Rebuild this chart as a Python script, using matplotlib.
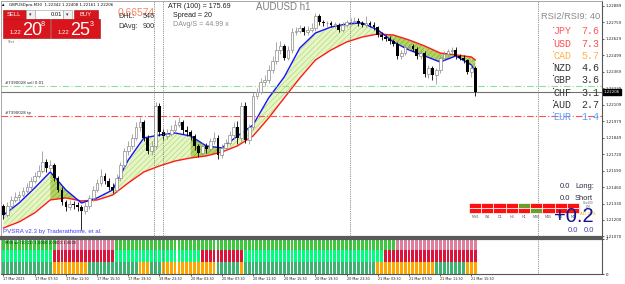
import matplotlib
matplotlib.use("Agg")
import numpy as np
import matplotlib.pyplot as plt
import matplotlib.transforms as mtransforms
from matplotlib.patches import Rectangle

plt.rcParams["hatch.linewidth"] = 0.4

# GBPUSD M30 candles, 17 Mar 03:30 .. 21 Mar 16:30
opens = [1.2131, 1.2124, 1.2131, 1.2136, 1.2138, 1.2140, 1.2143, 1.2146, 1.2151, 1.2155,
         1.2159, 1.2166, 1.2161, 1.2163, 1.2153, 1.2144, 1.2134, 1.2130, 1.2133, 1.2132,
         1.2130, 1.2127, 1.2131, 1.2137, 1.2144, 1.2149, 1.2155, 1.2151, 1.2146, 1.2144,
         1.2153, 1.2163, 1.2174, 1.2178, 1.2185, 1.2193, 1.2197, 1.2185, 1.2174, 1.2178,
         1.2210, 1.2189, 1.2186, 1.2188, 1.2191, 1.2195, 1.2197, 1.2191, 1.2189, 1.2186,
         1.2178, 1.2173, 1.2178, 1.2176, 1.2182, 1.2185, 1.2171, 1.2177, 1.2181, 1.2187,
         1.2193, 1.2185, 1.2210, 1.2183, 1.2193, 1.2218, 1.2221, 1.2229, 1.2230, 1.2238,
         1.2245, 1.2254, 1.2257, 1.2248, 1.2254, 1.2268, 1.2269, 1.2271, 1.2268, 1.2270,
         1.2271, 1.2281, 1.2276, 1.2275, 1.2275, 1.2274, 1.2274, 1.2270, 1.2274, 1.2276,
         1.2276, 1.2277, 1.2275, 1.2274, 1.2275, 1.2274, 1.2272, 1.2266, 1.2264, 1.2263,
         1.2261, 1.2259, 1.2249, 1.2252, 1.2256, 1.2257, 1.2255, 1.2249, 1.2252, 1.2235,
         1.2240, 1.2234, 1.2238, 1.2248, 1.2251, 1.2253, 1.2254, 1.2249, 1.2248, 1.2246,
         1.2237, 1.2240]
highs = [1.2133, 1.2134, 1.2139, 1.2142, 1.2143, 1.2146, 1.2149, 1.2154, 1.2158, 1.2163,
         1.2174, 1.2168, 1.2167, 1.2165, 1.2155, 1.2146, 1.2136, 1.2136, 1.2135, 1.2134,
         1.2132, 1.2134, 1.2140, 1.2147, 1.2152, 1.2160, 1.2157, 1.2153, 1.2149, 1.2156,
         1.2166, 1.2177, 1.2182, 1.2188, 1.2197, 1.2201, 1.2199, 1.2187, 1.2182, 1.2213,
         1.2212, 1.2192, 1.2192, 1.2195, 1.2199, 1.2201, 1.2199, 1.2194, 1.2191, 1.2188,
         1.2180, 1.2181, 1.2181, 1.2185, 1.2189, 1.2187, 1.2180, 1.2184, 1.2190, 1.2197,
         1.2198, 1.2213, 1.2213, 1.2196, 1.2221, 1.2224, 1.2232, 1.2234, 1.2242, 1.2249,
         1.2260, 1.2261, 1.2259, 1.2257, 1.2271, 1.2272, 1.2274, 1.2273, 1.2273, 1.2275,
         1.2283, 1.2282, 1.2278, 1.2277, 1.2277, 1.2276, 1.2275, 1.2276, 1.2278, 1.2279,
         1.2280, 1.2279, 1.2277, 1.2281, 1.2277, 1.2276, 1.2273, 1.2268, 1.2266, 1.2265,
         1.2263, 1.2260, 1.2254, 1.2258, 1.2259, 1.2259, 1.2256, 1.2254, 1.2253, 1.2242,
         1.2241, 1.2240, 1.2250, 1.2253, 1.2255, 1.2256, 1.2256, 1.2251, 1.2250, 1.2247,
         1.2242, 1.2241]
lows = [1.2121, 1.2122, 1.2129, 1.2134, 1.2135, 1.2138, 1.2141, 1.2144, 1.2149, 1.2153,
        1.2157, 1.2158, 1.2159, 1.2151, 1.2142, 1.2132, 1.2127, 1.2128, 1.2129, 1.2127,
        1.2112, 1.2125, 1.2129, 1.2135, 1.2142, 1.2147, 1.2148, 1.2144, 1.2141, 1.2142,
        1.2151, 1.2161, 1.2171, 1.2176, 1.2183, 1.2190, 1.2182, 1.2172, 1.2171, 1.2176,
        1.2186, 1.2183, 1.2184, 1.2186, 1.2189, 1.2193, 1.2188, 1.2186, 1.2183, 1.2175,
        1.2170, 1.2171, 1.2173, 1.2174, 1.2180, 1.2168, 1.2169, 1.2175, 1.2179, 1.2184,
        1.2180, 1.2182, 1.2181, 1.2180, 1.2191, 1.2215, 1.2219, 1.2226, 1.2228, 1.2236,
        1.2243, 1.2251, 1.2246, 1.2246, 1.2252, 1.2266, 1.2267, 1.2266, 1.2266, 1.2268,
        1.2269, 1.2274, 1.2273, 1.2272, 1.2272, 1.2271, 1.2268, 1.2268, 1.2272, 1.2274,
        1.2275, 1.2273, 1.2272, 1.2272, 1.2272, 1.2270, 1.2264, 1.2262, 1.2261, 1.2259,
        1.2257, 1.2247, 1.2247, 1.2250, 1.2254, 1.2253, 1.2247, 1.2247, 1.2233, 1.2232,
        1.2230, 1.2227, 1.2236, 1.2246, 1.2249, 1.2251, 1.2247, 1.2246, 1.2244, 1.2235,
        1.2233, 1.2218]
closes = [1.2124, 1.2131, 1.2136, 1.2138, 1.2140, 1.2143, 1.2146, 1.2151, 1.2155, 1.2159,
          1.2166, 1.2161, 1.2163, 1.2153, 1.2144, 1.2134, 1.2130, 1.2133, 1.2132, 1.2130,
          1.2127, 1.2131, 1.2137, 1.2144, 1.2149, 1.2155, 1.2151, 1.2146, 1.2144, 1.2153,
          1.2163, 1.2174, 1.2178, 1.2185, 1.2193, 1.2197, 1.2185, 1.2174, 1.2178, 1.2210,
          1.2189, 1.2186, 1.2188, 1.2191, 1.2195, 1.2197, 1.2191, 1.2189, 1.2186, 1.2178,
          1.2173, 1.2178, 1.2176, 1.2182, 1.2185, 1.2171, 1.2177, 1.2181, 1.2187, 1.2193,
          1.2185, 1.2210, 1.2183, 1.2193, 1.2218, 1.2221, 1.2229, 1.2230, 1.2238, 1.2245,
          1.2254, 1.2257, 1.2248, 1.2254, 1.2268, 1.2269, 1.2271, 1.2268, 1.2270, 1.2271,
          1.2281, 1.2276, 1.2275, 1.2275, 1.2274, 1.2274, 1.2270, 1.2274, 1.2276, 1.2276,
          1.2277, 1.2275, 1.2274, 1.2275, 1.2274, 1.2272, 1.2266, 1.2264, 1.2263, 1.2261,
          1.2259, 1.2249, 1.2252, 1.2256, 1.2257, 1.2255, 1.2249, 1.2252, 1.2235, 1.2240,
          1.2234, 1.2238, 1.2248, 1.2251, 1.2253, 1.2254, 1.2249, 1.2248, 1.2246, 1.2237,
          1.2240, 1.22206]

# fast (blue) / slow (red) averages, sampled every 4 bars
ma_idx = [0, 4, 8, 12, 16, 20, 24, 28, 32, 36, 40, 44, 48, 52, 56, 60,
          64, 68, 72, 76, 80, 84, 88, 92, 96, 100, 104, 108, 112, 116, 120, 121]
ma_fast = [1.21240, 1.21334, 1.21453, 1.21579, 1.21437, 1.21334, 1.21374, 1.21437,
           1.21673, 1.21847, 1.21870, 1.21886, 1.21862, 1.21784, 1.21768, 1.21862,
           1.21949, 1.22162, 1.22327, 1.22556, 1.22674, 1.22721, 1.22745, 1.22753,
           1.22698, 1.22603, 1.22540, 1.22493, 1.22445, 1.22493, 1.22422, 1.22367]
ma_slow = [1.21137, 1.21185, 1.21256, 1.21358, 1.21374, 1.21350, 1.21358, 1.21397,
           1.21492, 1.21579, 1.21626, 1.21665, 1.21689, 1.21705, 1.21736, 1.21784,
           1.21862, 1.22004, 1.22162, 1.22319, 1.22461, 1.22540, 1.22603, 1.22642,
           1.22666, 1.22658, 1.22619, 1.22572, 1.22516, 1.22501, 1.22485, 1.22461]
# 1 = falling segment (dark olive fill)
ma_falling = [0, 0, 0, 1, 1, 1, 0, 0, 0, 0, 0, 0, 1, 1, 0, 0,
              0, 0, 0, 0, 0, 0, 0, 0, 1, 1, 1, 1, 1, 1, 1]

order_price = 1.22256
tp_price = 1.22020
separators = [38.6, 40.9, 88.8, 137.1]

price_ticks = [1.22889, 1.22759, 1.22629, 1.22499, 1.22369, 1.22239, 1.22109, 1.21979,
               1.21849, 1.21720, 1.21590, 1.21460, 1.21330, 1.21200, 1.21070]

time_ticks = [0, 8, 16, 24, 32, 40, 48, 56, 64, 72, 80, 88, 96, 104, 112, 120]
time_labels = ["17 Mar 2023", "17 Mar 07:30", "17 Mar 11:30", "17 Mar 15:30",
               "17 Mar 19:30", "19 Mar 23:30", "20 Mar 03:30", "20 Mar 07:30",
               "20 Mar 11:30", "20 Mar 15:30", "20 Mar 19:30", "20 Mar 23:30",
               "21 Mar 03:30", "21 Mar 07:30", "21 Mar 11:30", "21 Mar 15:30"]

# PVSRA sub-window states, run-length encoded (state, number of bars)
row_top = [("up", 14), ("dn", 15), ("up", 72), ("dn", 21)]
row_mid = [("up", 13), ("dn", 16), ("up", 22), ("dn", 11), ("up", 36), ("dn", 24)]
row_bot = [("up", 13), ("dn", 9), ("up", 13), ("dn", 3), ("up", 3), ("dn", 14),
           ("up", 6), ("dn", 1), ("up", 34), ("dn", 15), ("up", 8), ("dn", 3)]

ccy_names = ["JPY", "USD", "CAD", "NZD", "GBP", "CHF", "AUD", "EUR"]
ccy_values = [7.6, 7.3, 5.7, 4.6, 3.6, 3.1, 2.7, 1.4]
ccy_colors = ["#ff5a5a", "#ff4a4a", "#ffb347", "#333333", "#333333", "#333333",
              "#333333", "#5aa0ff"]

tf_names = ["MN1", "W1", "D1", "H4", "H1", "M30", "M15", "M5", "M1"]
tf_upper = [0, 0, 0, 0, 1, 0, 0, 0, 0]
tf_lower = [0, 0, 0, 0, 0, 1, 0, 0, 0]

W, H = 625, 284
fig = plt.figure(figsize=(W / 100, H / 100), dpi=100)
fig.patch.set_facecolor("white")


def frac(x0, y0, x1, y1):
    return [x0 / W, 1 - y1 / H, (x1 - x0) / W, (y1 - y0) / H]


ax = fig.add_axes(frac(1, 0.5, 602, 237))
sub = fig.add_axes(frac(1, 238.5, 602, 274))
xlim = (-0.64, 153.5)

# ---- main chart ----
idx = np.arange(len(closes))
o, h, l, c = (np.array(v) for v in (opens, highs, lows, closes))
up = c >= o
body_lo = np.minimum(o, c)
body_h = np.maximum(np.abs(c - o), 0.00002)

for k in range(len(ma_idx) - 1):
    xs = ma_idx[k:k + 2]
    if ma_falling[k]:
        face, hcol = "#b3d465", "#7ea828"
    else:
        face, hcol = "#e6f5c8", "#a9d65c"
    ax.fill_between(xs, ma_fast[k:k + 2], ma_slow[k:k + 2], facecolor=face,
                    edgecolor=hcol, hatch="//////", linewidth=0, zorder=1)
ax.plot(ma_idx, ma_slow, color="#ff1a1a", lw=1.0, zorder=2)
ax.plot(ma_idx, ma_fast, color="#1414ff", lw=1.0, zorder=2)

ax.vlines(idx[up], l[up], h[up], color="#9a9a9a", lw=0.6, zorder=3)
ax.vlines(idx[~up], l[~up], h[~up], color="black", lw=0.6, zorder=3)
ax.bar(idx[up], body_h[up], bottom=body_lo[up], width=0.7, facecolor="white",
       edgecolor="#8c8c8c", linewidth=0.5, zorder=4)
ax.bar(idx[~up], body_h[~up], bottom=body_lo[~up], width=0.7, color="black",
       linewidth=0, zorder=4)

ax.axhline(closes[-1], color="#707070", lw=0.8, zorder=2)
ax.axhline(order_price, color="#8fe08f", lw=0.8, ls=(0, (6, 2, 1, 2)), zorder=2)
ax.axhline(tp_price, color="#ff5050", lw=0.8, ls=(0, (6, 2, 1, 2)), zorder=2)
for xv in separators:
    for a in (ax, sub):
        a.axvline(xv, color="#707070", lw=0.6, ls=(0, (1, 1.2)), zorder=5)

ax.set_xlim(*xlim)
ax.set_ylim(1.21066, 1.22930)
ax.yaxis.tick_right()
ax.set_yticks(price_ticks)
ax.set_yticklabels([f"{p:.5f}" for p in price_ticks])
ax.tick_params(axis="y", labelsize=2.8, length=1.5, width=0.5, pad=1, colors="#222222")
ax.set_xticks([])
for side in ("left", "top"):
    ax.spines[side].set_color("#9a9a9a")
    ax.spines[side].set_linewidth(0.6)
ax.spines["right"].set_color("#555555")
ax.spines["right"].set_linewidth(0.8)
ax.spines["bottom"].set_color("#5a5a5a")
ax.spines["bottom"].set_linewidth(1.6)

blend = mtransforms.blended_transform_factory(ax.transAxes, ax.transData)
ax.text(1.003, closes[-1], f"{closes[-1]:.5f}", transform=blend, fontsize=2.8,
        color="white", va="center", ha="left", zorder=6,
        bbox=dict(boxstyle="square,pad=0.25", facecolor="black", edgecolor="black"))
ax.text(0.006, order_price + 0.00005, "#7390028 sell 0.01", transform=blend,
        fontsize=2.8, color="#222222", va="bottom")
ax.text(0.006, tp_price + 0.00005, "#7390028 tp", transform=blend,
        fontsize=2.8, color="#222222", va="bottom")

# ---- PVSRA sub window ----
palette = {
    0: {"up": "#3cc83c", "dn": "#e07c9c"},
    1: {"up": "#00ff80", "dn": "#dc143c"},
    2: {"up": "#3cb371", "dn": "#ffa500"},
}
row_h = 2 / 3
for r, runs in enumerate((row_top, row_mid, row_bot)):
    states = []
    for state, n in runs:
        states += [state] * n
    cols = [palette[r][s] for s in states]
    sub.bar(np.arange(len(states)), row_h, bottom=2 - (r + 1) * row_h, width=0.74,
            color=cols, linewidth=0, zorder=1)
sub.set_xlim(*xlim)
sub.set_ylim(0, 2)
sub.yaxis.tick_right()
sub.set_yticks([0, 2])
sub.set_yticklabels(["0", "2"])
sub.tick_params(axis="y", labelsize=2.8, length=1.5, width=0.5, pad=1)
sub.set_xticks(time_ticks)
sub.set_xticklabels(time_labels, ha="left")
sub.tick_params(axis="x", labelsize=2.4, length=1.5, width=0.5, pad=0.6, colors="#222222")
sub.spines["top"].set_color("#5a5a5a")
sub.spines["top"].set_linewidth(1.6)
sub.spines["left"].set_color("#9a9a9a")
sub.spines["left"].set_linewidth(0.6)
sub.spines["right"].set_color("#555555")
sub.spines["bottom"].set_color("#555555")
sub.text(0.006, 0.93, "M30 sz (10.11) 1.0000 2.0000 1.0000", transform=sub.transAxes,
         fontsize=2.7, color="#111111", va="top", zorder=3)

# ---- overlay: panels and labels in pixel space ----
ov = fig.add_axes([0, 0, 1, 1])
ov.set_xlim(0, W)
ov.set_ylim(H, 0)
ov.axis("off")
ov.patch.set_alpha(0)

SANS = "Liberation Sans"
MONO = "Liberation Mono"


def box(x0, y0, x1, y1, fc, ec=None, lw=0.4):
    ov.add_patch(Rectangle((x0, y0), x1 - x0, y1 - y0, facecolor=fc,
                           edgecolor=ec if ec else fc, linewidth=lw))


ov.text(2, 5, "\u25b4", fontsize=3.5, color="black", va="center")
ov.text(9, 5, "GBPUSDpro,M30  1.22342 1.22408 1.22161 1.22206", fontsize=2.9,
        color="#111111", va="center")

red = "#d8141c"
box(3, 10, 26, 18.5, red, "#a50c12")
box(26, 10, 35, 18.5, "#f0f0f0", "#9a9a9a")
box(35, 10, 63, 18.5, "white", "#9a9a9a")
box(63, 10, 72, 18.5, "#f0f0f0", "#9a9a9a")
box(74, 10, 98, 18.5, red, "#a50c12")
ov.text(13.5, 14.3, "SELL", fontsize=4.2, color="white", ha="center", va="center", family=SANS)
ov.text(86, 14.3, "BUY", fontsize=4.2, color="white", ha="center", va="center", family=SANS)
ov.text(30.5, 14.3, "\u25be", fontsize=3.5, color="#333333", ha="center", va="center")
ov.text(67.5, 14.3, "\u25be", fontsize=3.5, color="#333333", ha="center", va="center")
ov.text(62, 14.3, "0.01", fontsize=4.2, color="#111111", ha="right", va="center", family=SANS)

box(3, 19, 49.5, 38, red, "#a50c12")
box(51, 19, 100, 38, red, "#a50c12")
ov.text(9.5, 34, "1.22", fontsize=4.3, color="white", va="baseline", family=SANS)
ov.text(22, 35, "20", fontsize=13, color="white", va="baseline", family=SANS)
ov.text(40.5, 25.5, "8", fontsize=5.2, color="white", va="baseline", family=SANS)
ov.text(57.5, 34, "1.22", fontsize=4.3, color="white", va="baseline", family=SANS)
ov.text(70.5, 35, "25", fontsize=13, color="white", va="baseline", family=SANS)
ov.text(89.5, 25.5, "3", fontsize=5.2, color="white", va="baseline", family=SANS)
ov.text(7, 42, "Text", fontsize=2.6, color="#777777", va="center")

ov.text(117.5, 13.5, "0.66574", fontsize=7.4, color="#fa8466", va="center", family=SANS)
ov.text(118.5, 16.5, "DHL:", fontsize=5.2, color="#333333", va="center", family=SANS)
ov.text(155, 16.5, "546", fontsize=5.2, color="#333333", va="center", ha="right", family=SANS)
ov.text(118.5, 26, "DAvg:", fontsize=5.2, color="#333333", va="center", family=SANS)
ov.text(155, 26, "900", fontsize=5.2, color="#333333", va="center", ha="right", family=SANS)

ov.text(168, 6, "ATR (100) = 175.69", fontsize=5.1, color="#222222", va="center", family=SANS)
ov.text(173, 15.5, "Spread = 20", fontsize=5.1, color="#222222", va="center", family=SANS)
ov.text(173, 25, "DAvg/S = 44.99 x", fontsize=5.1, color="#8c8c8c", va="center", family=SANS)
ov.text(256, 7.5, "AUDUSD h1", fontsize=7, color="#808080", va="center", family=SANS)

ov.text(600, 16.5, "RSI2/RSI9: 40", fontsize=6.7, color="#8a8a8a", va="center",
        ha="right", family=SANS)
for k, (name, val, col) in enumerate(zip(ccy_names, ccy_values, ccy_colors)):
    yc = 31.5 + k * 12.2
    ov.text(553, yc, name, fontsize=7.2, color=col, va="center", family=MONO)
    ov.text(599, yc, f"{val:.1f}", fontsize=7.2, color=col, va="center", ha="right", family=MONO)
    ov.plot(552.5, yc - 5, marker="s", ms=0.8, color=col, mew=0)

ov.text(570, 186.5, "0.0", fontsize=5.4, color="#2a2a44", va="center", ha="right", family=SANS)
ov.text(575, 186.5, "Long:", fontsize=5.4, color="#2a2a44", va="center", family=SANS)
ov.text(570, 198.5, "0.0", fontsize=5.4, color="#2a2a44", va="center", ha="right", family=SANS)
ov.text(575, 198.5, "Short", fontsize=5.4, color="#2a2a44", va="center", family=SANS)

cell_w = (579 - 469) / len(tf_names)
for k, name in enumerate(tf_names):
    x0 = 469 + k * cell_w
    box(x0, 203, x0 + cell_w, 208, "#6e9b2a" if tf_upper[k] else "#ff1010", "white", 0.5)
    box(x0, 208, x0 + cell_w, 213, "#6e9b2a" if tf_lower[k] else "#ff1010", "white", 0.5)
    ov.text(x0 + cell_w / 2, 217.5, name, fontsize=2.4, color="#555555",
            ha="center", va="center")
ov.text(583, 203.5, "Dsw100", fontsize=2, color="#666666", va="center")
ov.text(586, 207.5, "100", fontsize=2, color="#666666", va="center")
ov.text(580, 214, "AD 250,", fontsize=3, color="#ffa500", va="center")
ov.text(574, 216, "+0.2", fontsize=14.5, color="#12128a", va="center", ha="center", family=SANS)
ov.text(578, 230, "0.0", fontsize=5.4, color="#3c3cb0", va="center", ha="right", family=SANS)
ov.text(594, 230, "0.0", fontsize=5.4, color="#3c3cb0", va="center", ha="right", family=SANS)

ov.text(3, 231, "PVSRA v2.3 by Traderathome, et al.", fontsize=4.4, color="#3f3fff",
        va="center", family=SANS)

fig.savefig("out.png", dpi=100)
